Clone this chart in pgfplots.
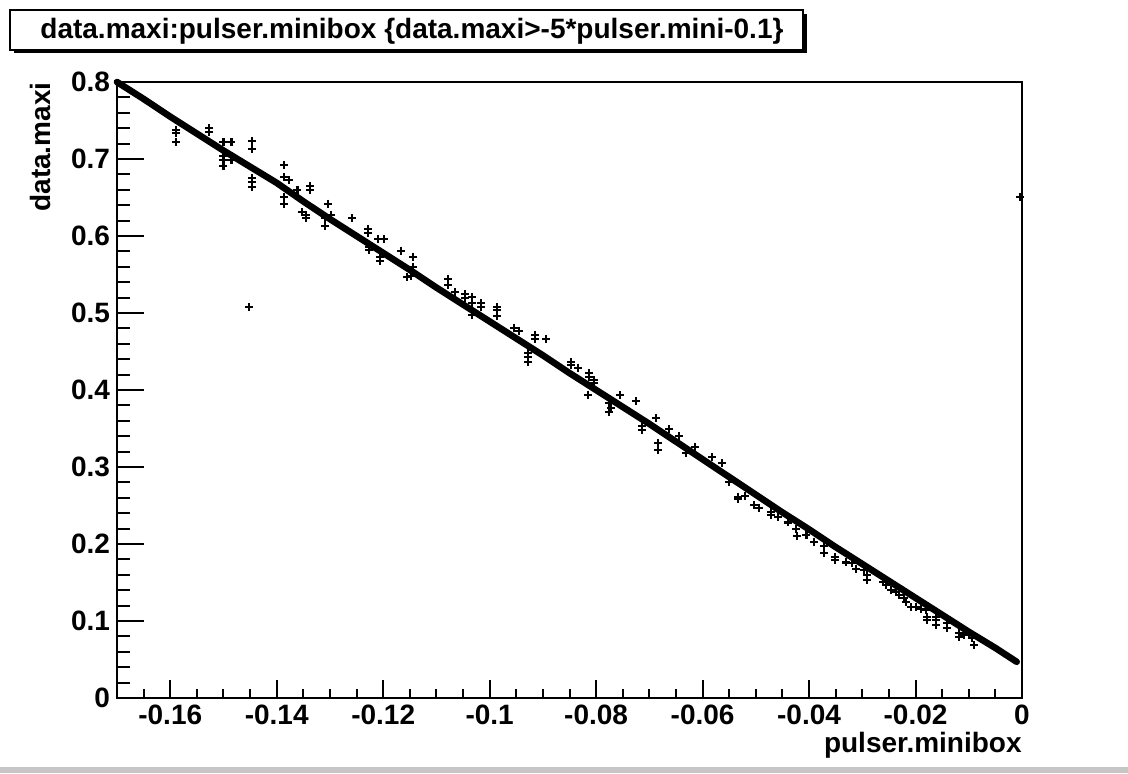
\documentclass[border=0pt]{standalone}
\usepackage{pgfplots}
\pgfplotsset{compat=1.18}
\usepackage{pgfplotstable}
\usepackage{fontspec}
\setmainfont{Liberation Sans}

\pgfplotstableread{
x y
-0.1700 0.800
-0.1650 0.778
-0.1600 0.755
-0.1550 0.733
-0.1500 0.711
-0.1450 0.690
-0.1400 0.669
-0.1350 0.645
-0.1300 0.622
-0.1250 0.600
-0.1200 0.578
-0.1150 0.556
-0.1100 0.533
-0.1050 0.511
-0.1000 0.489
-0.0950 0.467
-0.0900 0.445
-0.0850 0.422
-0.0800 0.400
-0.0750 0.378
-0.0700 0.356
-0.0650 0.333
-0.0600 0.310
-0.0550 0.287
-0.0500 0.264
-0.0450 0.241
-0.0400 0.219
-0.0350 0.196
-0.0300 0.174
-0.0250 0.152
-0.0200 0.130
-0.0150 0.108
-0.0100 0.086
-0.0050 0.065
-0.0010 0.047
}\band

\pgfplotstableread{
x y
-0.1589 0.738
-0.1589 0.734
-0.1589 0.722
-0.1527 0.740
-0.1527 0.735
-0.1500 0.722
-0.1500 0.704
-0.1500 0.699
-0.1500 0.691
-0.1485 0.722
-0.1485 0.704
-0.1485 0.699
-0.1446 0.723
-0.1446 0.713
-0.1446 0.675
-0.1446 0.670
-0.1446 0.664
-0.1452 0.508
-0.1386 0.692
-0.1386 0.677
-0.1377 0.673
-0.1386 0.651
-0.1386 0.642
-0.1337 0.665
-0.1337 0.660
-0.1361 0.660
-0.1352 0.631
-0.1345 0.627
-0.1345 0.623
-0.1303 0.642
-0.1309 0.623
-0.1298 0.627
-0.1309 0.613
-0.1258 0.623
-0.1228 0.609
-0.1228 0.604
-0.1209 0.596
-0.1198 0.596
-0.1227 0.586
-0.1227 0.582
-0.1206 0.573
-0.1206 0.568
-0.1166 0.581
-0.1144 0.573
-0.1155 0.547
-0.1147 0.548
-0.1144 0.560
-0.1078 0.544
-0.1078 0.536
-0.1065 0.527
-0.1046 0.525
-0.1046 0.519
-0.1033 0.521
-0.1033 0.513
-0.1033 0.497
-0.1016 0.513
-0.1016 0.508
-0.0986 0.508
-0.0986 0.504
-0.0986 0.496
-0.0954 0.481
-0.0945 0.477
-0.0915 0.471
-0.0915 0.466
-0.0894 0.466
-0.0928 0.448
-0.0928 0.443
-0.0928 0.436
-0.0847 0.436
-0.0847 0.432
-0.0834 0.429
-0.0813 0.422
-0.0813 0.417
-0.0804 0.413
-0.0804 0.409
-0.0815 0.394
-0.0776 0.383
-0.0772 0.377
-0.0776 0.371
-0.0755 0.394
-0.0725 0.386
-0.0714 0.353
-0.0714 0.348
-0.0687 0.364
-0.0684 0.331
-0.0684 0.322
-0.0663 0.349
-0.0644 0.340
-0.0614 0.326
-0.0631 0.318
-0.0582 0.313
-0.0563 0.305
-0.0550 0.281
-0.0533 0.261
-0.0533 0.258
-0.0520 0.262
-0.0503 0.251
-0.0494 0.247
-0.0471 0.242
-0.0471 0.238
-0.0458 0.235
-0.0440 0.228
-0.0424 0.219
-0.0423 0.210
-0.0405 0.212
-0.0391 0.203
-0.0372 0.197
-0.0372 0.188
-0.0351 0.183
-0.0351 0.179
-0.0330 0.176
-0.0319 0.175
-0.0312 0.168
-0.0297 0.166
-0.0291 0.160
-0.0291 0.153
-0.0261 0.151
-0.0255 0.147
-0.0246 0.140
-0.0237 0.138
-0.0231 0.134
-0.0222 0.130
-0.0218 0.125
-0.0208 0.118
-0.0199 0.118
-0.0190 0.116
-0.0180 0.114
-0.0178 0.105
-0.0162 0.105
-0.0178 0.101
-0.0162 0.101
-0.0162 0.095
-0.0141 0.097
-0.0141 0.091
-0.0118 0.084
-0.0109 0.082
-0.0100 0.084
-0.0118 0.079
-0.0090 0.069
-0.0094 0.078
-0.0003 0.651
}\outliers

\begin{document}
\begin{tikzpicture}
\useasboundingbox (-58.5pt,-37.5pt) rectangle (505.5pt,349pt);
\pgfplotsset{common/.style={
  scale only axis, width=452.5pt, height=308pt,
  at={(0pt,0pt)}, anchor=south west,
  xmin=-0.17, xmax=0, ymin=0, ymax=0.8, clip=false,
  tick align=inside, tick pos=left,
  tick style={line width=1pt, black},
}}
\begin{axis}[common,
  axis line style={line width=1pt},
  xtick={-0.16,-0.14,-0.12,-0.1,-0.08,-0.06,-0.04,-0.02,0},
  minor xtick={-0.165,-0.155,-0.15,-0.145,-0.135,-0.13,-0.125,-0.115,-0.11,-0.105,-0.095,-0.09,-0.085,-0.075,-0.07,-0.065,-0.055,-0.05,-0.045,-0.035,-0.03,-0.025,-0.015,-0.01,-0.005},
  ytick={0,0.1,0.2,0.3,0.4,0.5,0.6,0.7,0.8},
  ytick style={draw=none},
  major tick length=9pt, minor tick length=4.5pt,
  scaled ticks=false,
  /pgf/number format/assume math mode=true,
  ticklabel style={font=\fontsize{14}{16}\selectfont\bfseries},
  xticklabel style={/pgf/number format/.cd, fixed, precision=2},
  yticklabel style={/pgf/number format/.cd, fixed, precision=1},
]
\addplot[black, line width=3.3pt, line cap=round, line join=round] table {\band};
\addplot[black, only marks, mark=+, mark size=2pt, mark options={line width=1.1pt}] table {\outliers};
\end{axis}
\begin{axis}[common,
  axis line style={draw=none},
  xtick=\empty,
  ytick={0,0.1,0.2,0.3,0.4,0.5,0.6,0.7,0.8},
  minor y tick num=4,
  yticklabel={\mbox{}},
  major tick length=13.5pt, minor tick length=6.5pt,
]
\end{axis}
% title box
\fill[black] (-51.5pt,322.3pt) rectangle (344.8pt,342pt);
\draw[line width=0.8pt, fill=white] (-53.5pt,324pt) rectangle (343pt,344pt);
\node[anchor=base west, inner sep=0pt, font=\fontsize{14}{16}\selectfont\bfseries] at (-38.5pt,329.5pt) {data.maxi:pulser.minibox \{data.maxi>-5*pulser.mini-0.1\}};
% axis titles
\node[anchor=base east, inner sep=0pt, font=\fontsize{14}{16}\selectfont\bfseries] at (452.5pt,-27pt) {pulser.minibox};
\node[anchor=base east, rotate=90, inner sep=0pt, font=\fontsize{14}{16}\selectfont\bfseries] at (-33pt,308pt) {data.maxi};
% scan edge
\fill[gray!45] (-58.5pt,-37.5pt) rectangle (505.5pt,-34.5pt);
\end{tikzpicture}
\end{document}
